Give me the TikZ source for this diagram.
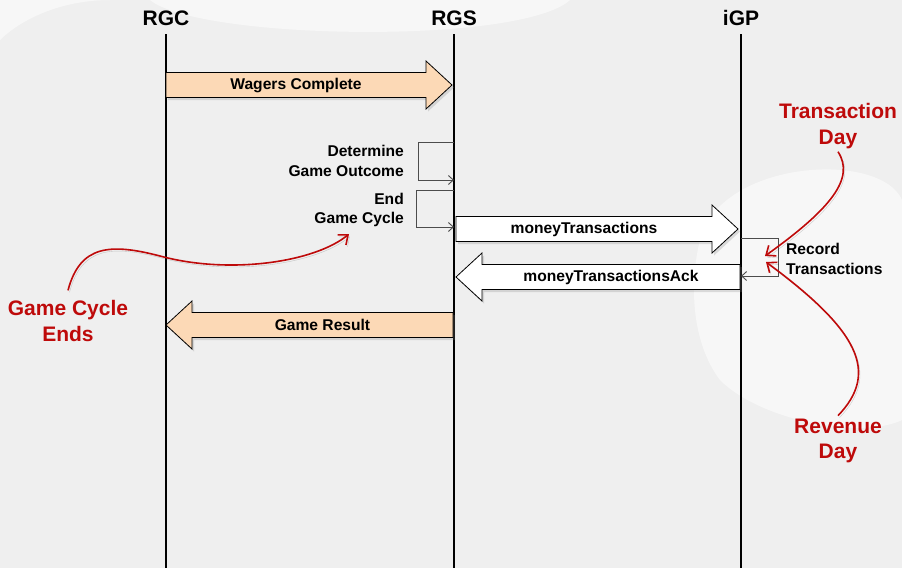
\documentclass[tikz,border=0pt]{standalone}
\usepackage{fontspec}
\setmainfont{Liberation Sans}
\usetikzlibrary{positioning}
\usetikzlibrary{arrows.meta}
\usetikzlibrary{calc}
\usetikzlibrary{shadows}
\definecolor{peach}{HTML}{FCD9B6}
\definecolor{note}{HTML}{BE0A0A}
\definecolor{paper}{HTML}{EFEFEF}
\tikzset{
  % Lifelines: head label and vertical line
  lifehead/.style={font=\bfseries\fontsize{21}{25}\selectfont, inner sep=0pt},
  lifeline/.style={draw=black, line width=2pt},
  % Fat message arrows between lifelines
  fatmsg/.style={draw=black, line width=0.8pt,
    drop shadow={opacity=0.25, shadow xshift=2pt, shadow yshift=-2.5pt}},
  msglbl/.style={font=\bfseries\fontsize{15.6}{19.5}\selectfont, inner sep=0pt},
  steplbl/.style={msglbl, align=right, anchor=east},
  % Self messages (thin loops)
  selfmsg/.style={draw=black!70, line width=0.9pt, -{Straight Barb[length=5pt, width=9pt]}},
  % Red annotations
  notelbl/.style={font=\bfseries\fontsize{21}{25.5}\selectfont, text=note, align=center, inner sep=0pt},
  notearrow/.style={draw=note, line width=1.6pt, -{Straight Barb[length=8pt, width=13pt]},
    preaction={draw=black, opacity=0.18, transform canvas={shift={(1.5pt,-2pt)}}}},
  % faint background shapes
  blob/.style={fill=white, opacity=0.55, draw=none},
}
% A fat arrow from #1 to #2 (tip at #2), fill #3, label #4
\newcommand{\bigmsg}[4]{%
  \draw[fatmsg, fill=#3] let \p1=(#1), \p2=(#2), \p3=($(#2)!26pt!(#1)$) in
    (\x1,\y1+12.5pt) -- (\x3,\y1+12.5pt) -- (\x3,\y1+24pt) -- (\x2,\y1)
    -- (\x3,\y1-24pt) -- (\x3,\y1-12.5pt) -- (\x1,\y1-12.5pt) -- cycle
    (\x1/2+\x3/2,\y1) node[msglbl] {#4};}

\begin{document}
\begin{tikzpicture}[x=1pt, y=-1pt]

\fill[paper] (0,0) rectangle (902,568);
\useasboundingbox (0,0) rectangle (902,568);

% background
\fill[blob] (150,0) .. controls (200,40) and (520,45) .. (570,0) -- cycle;
\fill[blob] (0,40) .. controls (20,20) and (60,0) .. (110,0) -- (0,0) -- cycle;
\fill[blob] (700,240) .. controls (720,160) and (880,150) .. (902,200)
  -- (902,420) .. controls (860,440) and (760,420) .. (720,380)
  .. controls (690,340) and (690,280) .. (700,240) -- cycle;

% lifelines
\node[lifehead] (rgc) at (166,18) {RGC};
\node[lifehead] (rgs) at (454,18) {RGS};
\node[lifehead] (igp) at (741,18) {iGP};
\draw[lifeline] (rgc |- 0,34) -- (rgc |- 0,568);
\draw[lifeline] (rgs |- 0,34) -- (rgs |- 0,568);
\draw[lifeline] (igp |- 0,34) -- (igp |- 0,568);

% message end points
\coordinate (wagA) at (rgc |- 0,85);
\coordinate (wagB) at (452,85);
\coordinate (mtA) at (456,229);
\coordinate (mtB) at (738,229);
\coordinate (ackA) at (740,277);
\coordinate (ackB) at (456,277);
\coordinate (resA) at (453,325);
\coordinate (resB) at (rgc |- 0,325);

\bigmsg{wagA}{wagB}{peach}{Wagers Complete}
\bigmsg{mtA}{mtB}{white}{moneyTransactions}
\bigmsg{ackA}{ackB}{white}{moneyTransactionsAck}
\bigmsg{resA}{resB}{peach}{Game Result}

% self messages on RGS
\node[steplbl] (detlbl) at (404,161) {Determine\\Game Outcome};
\draw[selfmsg] (rgs |- 0,142) -| (418,180) -- (rgs |- 0,180);
\node[steplbl] (endlbl) at (404,210) {End\\Game Cycle};
\draw[selfmsg] (rgs |- 0,190) -| (416,227) -- (rgs |- 0,227);

% self message on iGP
\draw[selfmsg] (igp |- 0,238) -| (778,276) -- (igp |- 0,276);
\node[msglbl, align=left, anchor=west] (reclbl) at (786,259) {Record\\Transactions};

% annotations
\node[notelbl] (gce) at (68,321) {Game Cycle\\Ends};
\node[notelbl] (tday) at (838,126) {Transaction\\Day};
\node[notelbl] (rday) at (838,441) {Revenue\\Day};

\coordinate (endpt) at (349,234);
\coordinate (rec1) at (765,256);
\coordinate (rec2) at (766,262);

\draw[notearrow] ([yshift=10pt]gce.north) .. controls (80,245) and (110,243) .. (160,256)
  .. controls (230,275) and (315,262) .. (endpt);
\draw[notearrow] ([yshift=-3pt]tday.south) .. controls (855,178) and (832,208) .. (rec1);
\draw[notearrow] ([yshift=3pt]rday.north) .. controls (880,372) and (858,330) .. (rec2);

\end{tikzpicture}
\end{document}
